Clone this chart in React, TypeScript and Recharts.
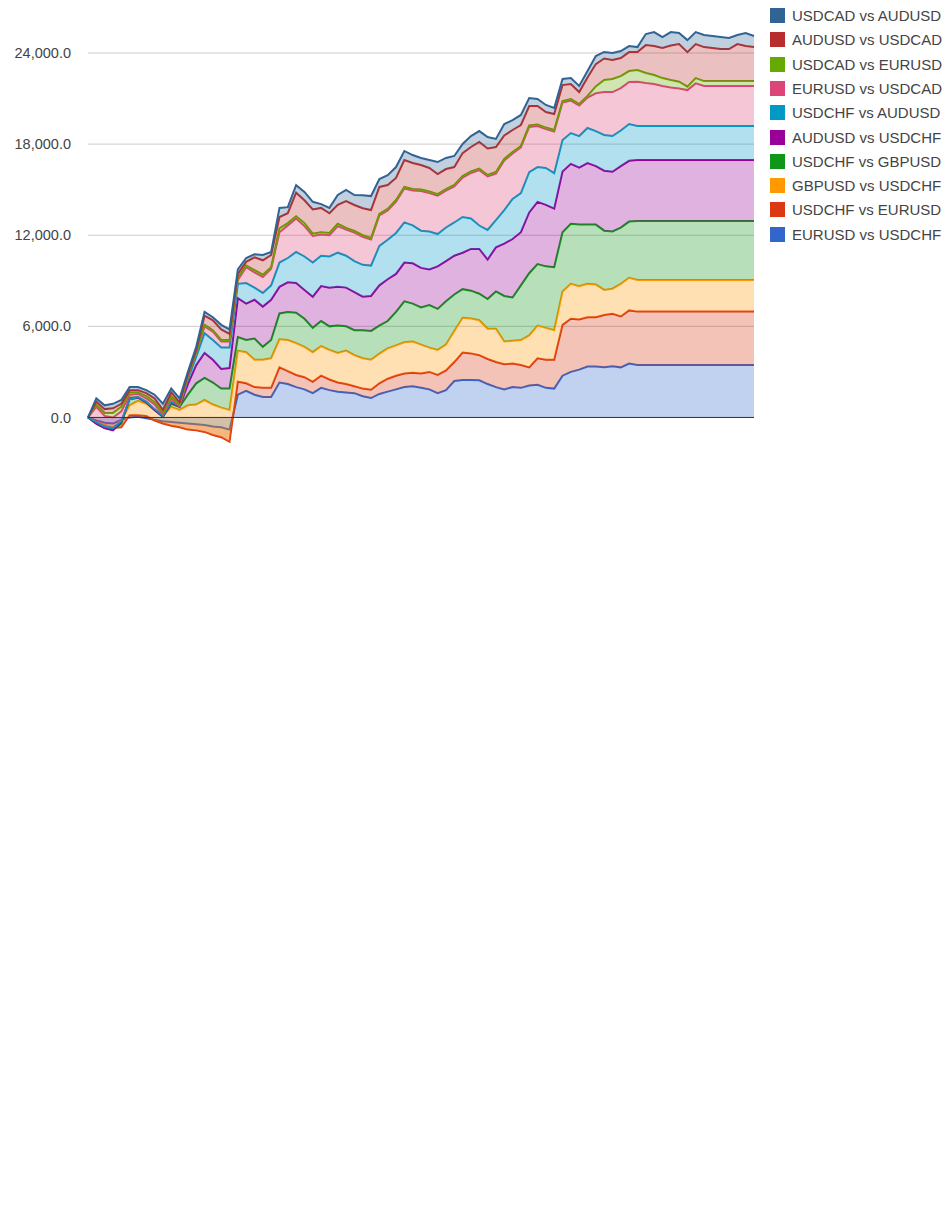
import { AreaChart, Area, XAxis, YAxis, CartesianGrid, ReferenceLine } from 'recharts'

// one value per trading step (bottom of the stack first)
const steps = Array.from({ length: 81 }, (_, i) => i + 1)

const eurusdVsUsdchf = [
  0, -200, -350, -400, -150, 0, 50, -50, -150, -250, -300, -350,
  -400, -450, -500, -600, -650, -800, 1500, 1750, 1500, 1350, 1350,
  2300, 2200, 2000, 1850, 1600, 1950, 1800, 1700,
  1650, 1600, 1400, 1280, 1550, 1700, 1850, 2000, 2050, 1950, 1850,
  1600, 1800, 2400, 2470, 2470, 2450, 2200, 2000, 1850, 2000,
  1950, 2100, 2150, 1950, 1900, 2750, 3000, 3150, 3350, 3350,
  3300, 3380, 3300, 3550, 3460,
  3460, 3460, 3460, 3460, 3460, 3460, 3460, 3460, 3460, 3460, 3460, 3460, 3460, 3460,
]
const usdchfVsEurusd = [
  0, -50, -150, -300, -500, 150, 100, 150, -50, -150, -250, -300,
  -400, -400, -450, -550, -650, -800, 850, 500, 500, 600, 600,
  1000, 850, 800, 800, 750, 800, 700, 600,
  550, 450, 500, 550, 700, 850, 900, 900, 900, 950, 1150,
  1200, 1300, 1250, 1800, 1750, 1650, 1650, 1650, 1650, 1550,
  1500, 1200, 1750, 1850, 1900, 3350, 3500, 3300, 3250, 3250,
  3450, 3450, 3350, 3500, 3510,
  3510, 3510, 3510, 3510, 3510, 3510, 3510, 3510, 3510, 3510, 3510, 3510, 3510, 3510,
]
const gbpusdVsUsdchf = [
  0, -50, 0, 50, 450, 650, 950, 800, 700, 500, 1250, 1150,
  1600, 1700, 2100, 2000, 1950, 2100, 2050, 2050, 1800, 1850, 1950,
  1850, 2050, 2100, 2000, 1950, 1950, 1950, 1950,
  2200, 2050, 2000, 1970, 1950, 2000, 2000, 2050, 2050, 1900, 1600,
  1650, 1700, 2050, 2300, 2300, 2300, 2000, 2200, 1500, 1500,
  1650, 2100, 2150, 2100, 1950, 2200, 2300, 2200, 2200, 2150,
  1650, 1650, 2150, 2150, 2080,
  2080, 2080, 2080, 2080, 2080, 2080, 2080, 2080, 2080, 2080, 2080, 2080, 2080, 2080,
]
const usdchfVsGbpusd = [
  0, -100, -200, -150, -200, 500, 250, 100, 0, -50, 200, 200,
  700, 1400, 1450, 1450, 1250, 1400, 900, 800, 1400, 850, 1200,
  1700, 1850, 2000, 1850, 1600, 1650, 1550, 1800,
  1600, 1650, 1850, 1900, 1850, 1800, 2200, 2700, 2500, 2450, 2800,
  2700, 2850, 2400, 1880, 1830, 1750, 1950, 2450, 3000, 2850,
  3600, 4100, 4050, 4050, 4150, 3900, 3950, 4050, 3900, 3950,
  3900, 3770, 3700, 3700, 3890,
  3890, 3890, 3890, 3890, 3890, 3890, 3890, 3890, 3890, 3890, 3890, 3890, 3890, 3890,
]
const audusdVsUsdchf = [
  0, 0, 0, -50, 100, -100, -50, 0, 0, 0, 100, 0,
  700, 1200, 1650, 1500, 1300, 1350, 2550, 2400, 2550, 2650, 2650,
  1750, 1950, 1950, 1900, 2050, 2300, 2550, 2550,
  2550, 2500, 2200, 2300, 2650, 2750, 2500, 2550, 2650, 2600, 2350,
  2800, 2650, 2550, 2400, 2750, 2950, 2600, 2900, 3450, 3850,
  3500, 4000, 4100, 4050, 3850, 4000, 3950, 3750, 4050, 3850,
  3950, 3930, 4050, 4000, 4010,
  4010, 4010, 4010, 4010, 4010, 4010, 4010, 4010, 4010, 4010, 4010, 4010, 4010, 4010,
]
const usdchfVsAudusd = [
  0, 100, 100, 150, 50, 0, 50, 50, 50, 50, 50, 50,
  300, 550, 1300, 1300, 1400, 1350, 950, 1350, 800, 900, 950,
  1600, 1600, 2050, 2200, 2250, 2000, 2050, 2250,
  2100, 2050, 2100, 2000, 2600, 2600, 2700, 2650, 2500, 2450, 2500,
  2130, 2210, 2190, 2350, 2000, 1540, 1950, 1800, 2210, 2640,
  2580, 2660, 2290, 2430, 2340, 2070, 2030, 2080, 2310, 2310,
  2350, 2350, 2350, 2420, 2240,
  2240, 2240, 2240, 2240, 2240, 2240, 2240, 2240, 2240, 2240, 2240, 2240, 2240, 2240,
]
const eurusdVsUsdcad = [
  0, 1000, 700, 700, 650, 300, 200, 200, 300, 100, 200, 0,
  150, 250, 450, 550, 400, 400, 250, 1050, 1000, 1050, 1100,
  2000, 2150, 2200, 2000, 1750, 1400, 1400, 1750,
  1730, 1880, 1850, 1720, 2000, 1930, 2070, 2230, 2300, 2610, 2530,
  2530, 2430, 2370, 2600, 3000, 3650, 3520, 3060, 3260, 2990,
  3000, 2970, 2700, 2560, 2740, 2470, 2140, 2010, 2010, 2490,
  2830, 2900, 2790, 2770, 2920,
  2830, 2770, 2640, 2540, 2470, 2370, 2810, 2640, 2640, 2640, 2640, 2640, 2640, 2640,
]
const usdcadVsEurusd = [
  0, 150, 200, 300, 300, 150, 100, 150, 150, 100, 150, 100,
  50, 50, 100, 100, 100, 100, 150, 100, 150, 150, 100,
  250, 150, 150, 200, 150, 150, 150, 150,
  100, 100, 100, 100, 100, 100, 100, 100, 100, 100, 100,
  100, 100, 100, 100, 100, 100, 100, 100, 100, 100,
  100, 100, 100, 100, 100, 100, 100, 100, 100, 450,
  790, 860, 790, 720, 770,
  660, 590, 520, 490, 450, 220, 350, 320, 320, 320, 320, 320, 320, 320,
]
const audusdVsUsdcad = [
  0, 200, 250, 300, 200, 150, 150, 200, 250, 200, 250, 150,
  150, 150, 600, 650, 700, 400, 250, 250, 850, 950, 800,
  750, 650, 1550, 1500, 1600, 1600, 1300, 1250,
  1770, 1710, 1780, 1840, 1780, 1580, 1450, 1770, 1710, 1610, 1550,
  1320, 1320, 1180, 1510, 1610, 1750, 1740, 1650, 1550, 1450,
  1380, 1280, 1220, 1020, 1050, 1050, 990, 790, 1220, 1470,
  1420, 1250, 1190, 1250, 1180,
  1840, 1910, 1980, 2270, 2480, 2280, 2240, 2240, 2180, 2110, 2110, 2440, 2310, 2240,
]
const usdcadVsAudusd = [
  0, 200, 250, 300, 250, 200, 200, 200, 250, 400, 250, 250,
  150, 200, 250, 200, 300, 300, 300, 250, 200, 350, 200,
  600, 400, 500, 550, 500, 250, 350, 650,
  730, 660, 860, 920, 520, 650, 720, 600, 520, 470, 520,
  790, 730, 730, 600, 720, 720, 760, 530, 750, 650,
  660, 530, 460, 470, 400, 400, 390, 400, 420, 530,
  430, 460, 460, 400, 330,
  730, 920, 720, 890, 730, 790, 790, 800, 790, 790, 730, 600, 860, 730,
]

const yTicks = [0, 6000, 12000, 18000, 24000]

const SERIES = [
  { key: 'eurusdUsdchf', name: 'EURUSD vs USDCHF', color: '#3366cc', values: eurusdVsUsdchf },
  { key: 'usdchfEurusd', name: 'USDCHF vs EURUSD', color: '#dc3912', values: usdchfVsEurusd },
  { key: 'gbpusdUsdchf', name: 'GBPUSD vs USDCHF', color: '#ff9900', values: gbpusdVsUsdchf },
  { key: 'usdchfGbpusd', name: 'USDCHF vs GBPUSD', color: '#109618', values: usdchfVsGbpusd },
  { key: 'audusdUsdchf', name: 'AUDUSD vs USDCHF', color: '#990099', values: audusdVsUsdchf },
  { key: 'usdchfAudusd', name: 'USDCHF vs AUDUSD', color: '#0099c6', values: usdchfVsAudusd },
  { key: 'eurusdUsdcad', name: 'EURUSD vs USDCAD', color: '#dd4477', values: eurusdVsUsdcad },
  { key: 'usdcadEurusd', name: 'USDCAD vs EURUSD', color: '#66aa00', values: usdcadVsEurusd },
  { key: 'audusdUsdcad', name: 'AUDUSD vs USDCAD', color: '#b82e2e', values: audusdVsUsdcad },
  { key: 'usdcadAudusd', name: 'USDCAD vs AUDUSD', color: '#316395', values: usdcadVsAudusd },
]

const data = steps.map((step, i) => {
  const row: any = { step }
  SERIES.forEach((s) => { row[s.key] = s.values[i] })
  return row
})

const FONT = 'Arial, "Liberation Sans", sans-serif'

const fmt = (v: number) =>
  v.toLocaleString('en-US', { minimumFractionDigits: 1, maximumFractionDigits: 1 })

export default function App() {
  return (
    <div style={{ position: 'relative', width: 936, height: 460, fontFamily: FONT }}>
      <AreaChart
        width={936}
        height={460}
        data={data}
        margin={{ top: 11.6, right: 190, bottom: 23.2, left: 0 }}
      >
        <CartesianGrid vertical={false} stroke="#cccccc" horizontalValues={yTicks} />
        <XAxis dataKey="step" hide />
        <YAxis
          width={80}
          domain={[-1800, 26200]}
          ticks={yTicks}
          allowDataOverflow
          axisLine={false}
          tickLine={false}
          tickSize={0}
          tickMargin={17}
          tickFormatter={fmt}
          tick={{ fill: '#444444', fontSize: 14.5, fontFamily: FONT }}
        />
        {SERIES.map((s) => (
          <Area
            key={s.key}
            type="linear"
            dataKey={s.key}
            name={s.name}
            stackId="1"
            stroke={s.color}
            strokeWidth={2}
            fill={s.color}
            fillOpacity={0.3}
            dot={false}
            activeDot={false}
            isAnimationActive={false}
          />
        ))}
        <ReferenceLine y={0} stroke="#333333" strokeWidth={1} />
      </AreaChart>

      {/* legend, top series first like the original */}
      <div style={{ position: 'absolute', left: 762, top: 0 }}>
        {[...SERIES].reverse().map((s, i) => (
          <div
            key={s.key}
            style={{ position: 'absolute', left: 0, top: i * 24.3, height: 24, width: 170, whiteSpace: 'nowrap' }}
          >
            <span
              style={{ position: 'absolute', left: 0, top: 0, width: 15, height: 15, background: s.color }}
            />
            <span
              style={{ position: 'absolute', left: 22, top: -1, fontSize: 15, lineHeight: '17px', color: '#444444' }}
            >
              {s.name}
            </span>
          </div>
        ))}
      </div>
    </div>
  )
}
